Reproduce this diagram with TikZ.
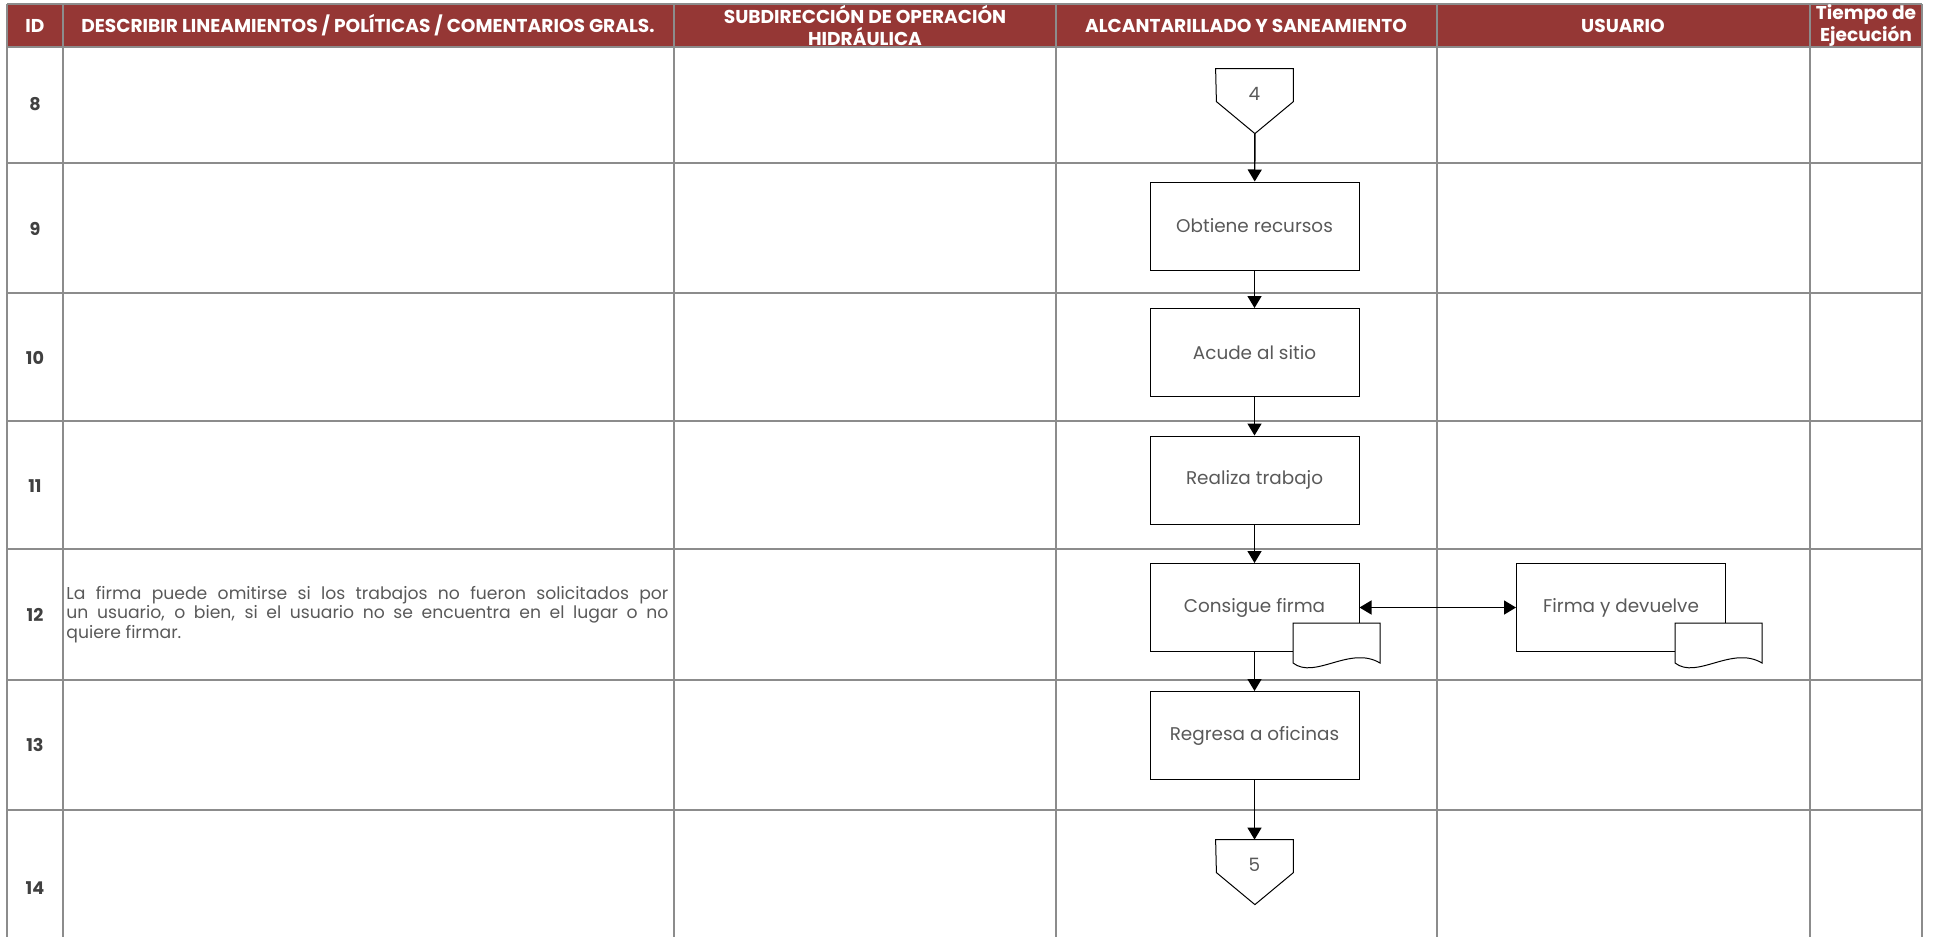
\documentclass[tikz,border=0pt]{standalone}
\usepackage{fontspec}
\setmainfont{Poppins}
\usepackage{xcolor}
\usepackage{tikz}
\usetikzlibrary{arrows.meta,positioning}

\definecolor{encabezado}{RGB}{149,55,53}
\definecolor{rejilla}{RGB}{140,140,140}
\definecolor{textogris}{RGB}{89,89,89}
\definecolor{textoid}{RGB}{64,64,64}

\begin{document}
\begin{tikzpicture}[x=0.5pt, y=-0.5pt,
        titulo/.style={text=white, font=\fontsize{9.3}{11}\selectfont\bfseries, align=center, inner sep=0pt},
        numid/.style={text=textoid, font=\fontsize{8.8}{10}\selectfont\bfseries, inner sep=0pt},
        caja/.style={draw, line width=0.5pt, fill=white, minimum width=104.5pt, minimum height=44pt, text=textogris, font=\fontsize{9.2}{11}\selectfont},
        conector/.style={minimum width=38.5pt, minimum height=24.5pt, inner sep=0pt, text=textogris, font=\fontsize{9.2}{11}\selectfont},
        forma/.style={draw, line width=0.5pt},
        documento/.style={draw, line width=0.5pt, fill=white},
        nota/.style={text=textogris, font=\fontsize{8.6}{8.7}\selectfont, align=left, inner sep=0pt},
        flecha/.style={line width=0.7pt, -{Triangle[width=7pt,length=6pt]}},
        doble/.style={line width=0.7pt, {Triangle[width=7pt,length=6pt]}-{Triangle[width=7pt,length=6pt]}}]
        \useasboundingbox (0,0) rectangle (1936,937);

        % Encabezado y rejilla de la tabla
        \fill[encabezado] (7,4) rectangle (1922,47);
        \draw[rejilla, line width=0.6pt] (7,4) -- (1922,4);
        \foreach \xl in {7,63,674,1056,1437,1810,1922}
            \draw[rejilla, line width=0.8pt] (\xl,4) -- (\xl,937);
        \foreach \yl in {47,163,293,421,549,680,810}
            \draw[rejilla, line width=0.8pt] (7,\yl) -- (1922,\yl);

        \node[titulo] (hid) at (35,25.5) {ID};
        \node[titulo] (hdesc) at (368,25.5) {DESCRIBIR LINEAMIENTOS / POLÍTICAS / COMENTARIOS GRALS.};
        \node[titulo] (hsub) at (865,25) {SUBDIRECCIÓN DE OPERACIÓN\\HIDRÁULICA};
        \node[titulo] (halc) at (1246,25.5) {ALCANTARILLADO Y SANEAMIENTO};
        \node[titulo] (husu) at (1623,25.5) {USUARIO};
        \node[titulo] (htie) at (1866,26) {Tiempo de\\Ejecución};

        % Numeros de actividad
        \node[numid] (id8) at (35,104) {8};
        \node[numid] (id9) at (35,229) {9};
        \node[numid] (id10) at (35,358) {10};
        \node[numid] (id11) at (35,486) {11};
        \node[numid] (id12) at (35,615) {12};
        \node[numid] (id13) at (35,745) {13};
        \node[numid] (id14) at (35,888) {14};

        \node[nota, anchor=west] (nota12) at (66,614.5) {\hbox to 301pt{La firma puede omitirse si los trabajos no fueron solicitados por}\\\hbox to 301pt{un usuario, o bien, si el usuario no se encuentra en el lugar o no}\\quiere firmar.};

        % Flujo del proceso
        \node[conector] (con4) at (1254.5,93.5) {4};
        \draw[forma] (con4.north west) -- (con4.north east) -- ++(0,33) -- ++(-38.5,32) coordinate (punta4) -- ++(-38.5,-32) -- cycle;

        \node[caja] (obtiene) at (1254.5,226) {Obtiene recursos};
        \node[caja] (acude) at (1254.5,352.5) {Acude al sitio};
        \node[caja] (realiza) at (1254.5,480) {Realiza trabajo};
        \node[caja] (consigue) at (1254.5,607.5) {Consigue firma};
        \node[caja] (firma) at (1621,607.5) {Firma y devuelve};
        \node[caja] (regresa) at (1254.5,735.5) {Regresa a oficinas};

        \draw[documento] (1293,623) -- (1380,623) -- (1380,663) .. controls (1350,645) and (1315,680) .. (1293,663) -- cycle;
        \draw[documento] (1675,623) -- (1762,623) -- (1762,663) .. controls (1732,645) and (1697,680) .. (1675,663) -- cycle;

        \node[conector] (con5) at (1254.5,864.5) {5};
        \draw[forma] (con5.north west) -- (con5.north east) -- ++(0,33) -- ++(-38.5,32) -- ++(-38.5,-32) -- cycle;

        \draw[flecha] (punta4) -- (obtiene);
        \draw[flecha] (obtiene) -- (acude);
        \draw[flecha] (acude) -- (realiza);
        \draw[flecha] (realiza) -- (consigue);
        \draw[flecha] (consigue) -- (regresa);
        \draw[flecha] (regresa) -- (con5.north);
        \draw[doble] (consigue) -- (firma);
\end{tikzpicture}
\end{document}
